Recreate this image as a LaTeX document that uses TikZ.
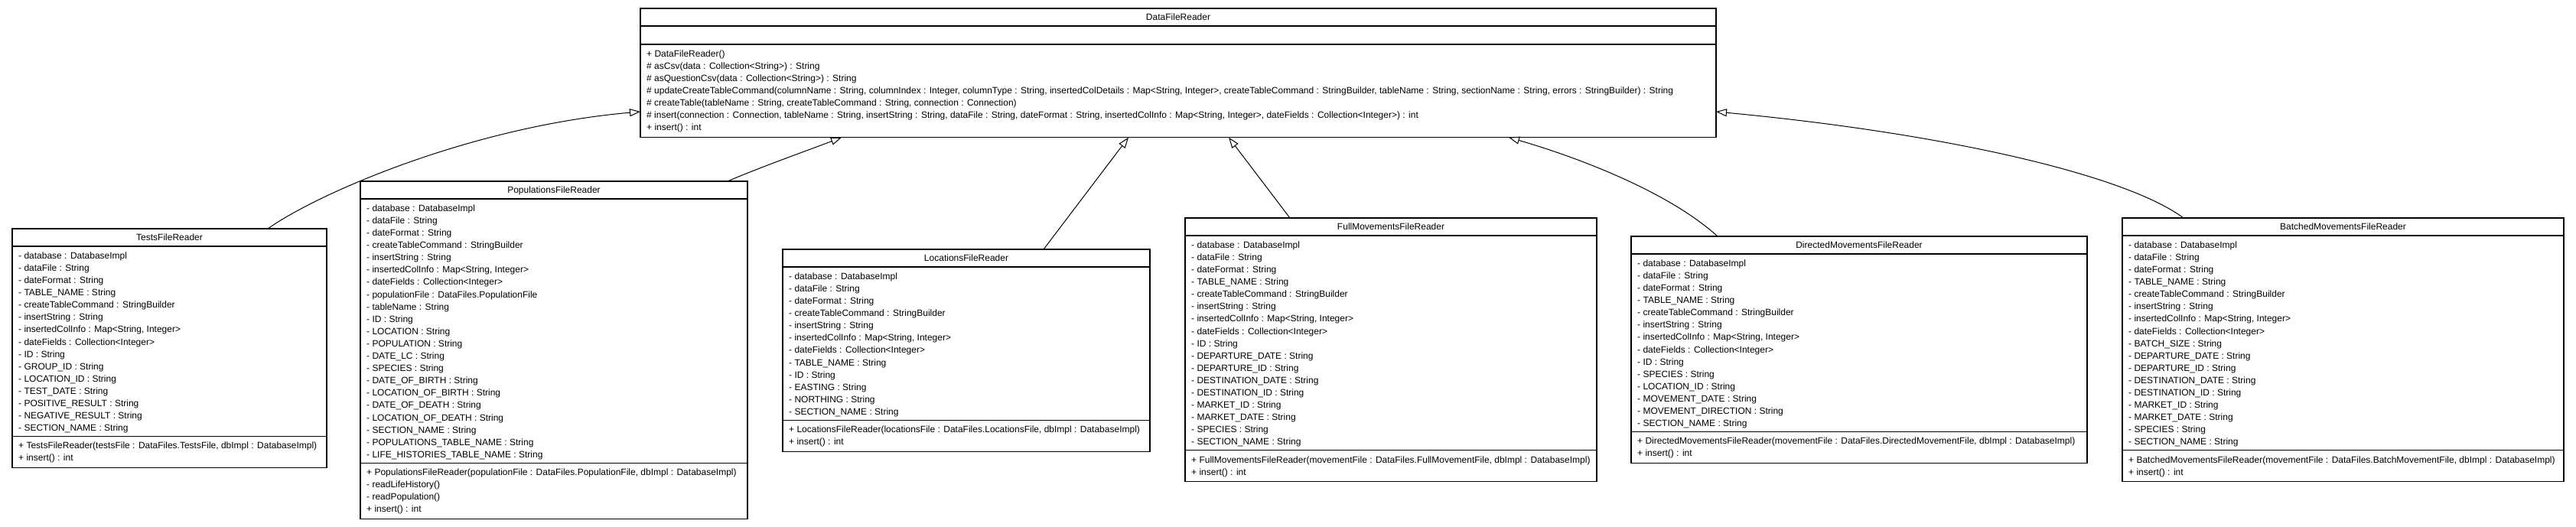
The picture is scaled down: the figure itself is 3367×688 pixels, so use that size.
\documentclass[tikz,border=0pt]{standalone}
\usepackage{fontspec}
\setmainfont{Liberation Sans}
\usetikzlibrary{arrows.meta,calc}
\tikzset{
  classbox/.style={draw, line width=1.1pt, rectangle, inner sep=0pt, outer sep=0pt, anchor=north west, fill=white},
  sepline/.style={line width=1.1pt},
  rowtext/.style={inner sep=0pt, anchor=base west, font=\fontsize{12}{14}\selectfont},
  titletext/.style={inner sep=0pt, anchor=base, font=\fontsize{12}{14}\selectfont},
  gen/.style={line width=1pt, -{Triangle[open, length=14pt, width=10pt, line width=1pt]}},
}
% #1 name, #2 L, #3 T, #4 R, #5 sep1, #6 sep2, #7 bottom, #8 title
\newcommand\umlclass[8]{%
  \pgfmathsetmacro\bw{#4-#2}%
  \pgfmathsetmacro\bh{#7-#3}%
  \node[classbox, minimum width=\bw pt, minimum height=\bh pt] (#1) at (#2,#3) {};
  \draw[sepline] (#1.west |- 0,#5) -- (#1.east |- 0,#5);
  \draw[sepline] (#1.west |- 0,#6) -- (#1.east |- 0,#6);
  \node[titletext] (#1-title) at ({(#2+#4)/2}, {#3+15.8}) {#8};
}
% #1 prefix, #2 x, #3 separator y, #4 list
\newcommand\umlrows[4]{%
  \foreach \t [count=\i] in {#4} {
    \node[rowtext] (#1-\i) at ({#2+8}, {#3+16.3+(\i-1)*16.1}) {\t};
  }
}
\begin{document}
\begin{tikzpicture}[x=1pt,y=-1pt]
\useasboundingbox[fill=white] (0,0) rectangle (3367,688);

% DataFileReader
\umlclass{dfr}{837}{11}{2243}{34}{58}{179.7}{DataFileReader}
\umlrows{dfrm}{837}{58}{
  {+ DataFileReader()},
  {\# asCsv(data : Collection<String>) : String},
  {\# asQuestionCsv(data : Collection<String>) : String},
  {\# updateCreateTableCommand(columnName : String, columnIndex : Integer, columnType : String, insertedColDetails : Map<String, Integer>, createTableCommand : StringBuilder, tableName : String, sectionName : String, errors : StringBuilder) : String},
  {\# createTable(tableName : String, createTableCommand : String, connection : Connection)},
  {\# insert(connection : Connection, tableName : String, insertString : String, dataFile : String, dateFormat : String, insertedColInfo : Map<String, Integer>, dateFields : Collection<Integer>) : int},
  {+ insert() : int}}

% TestsFileReader
\umlclass{tests}{16}{299}{427}{322}{570.5}{611.7}{TestsFileReader}
\umlrows{testsa}{16}{322}{
  {- database : DatabaseImpl},
  {- dataFile : String},
  {- dateFormat : String},
  {- TABLE\_NAME : String},
  {- createTableCommand : StringBuilder},
  {- insertString : String},
  {- insertedColInfo : Map<String, Integer>},
  {- dateFields : Collection<Integer>},
  {- ID : String},
  {- GROUP\_ID : String},
  {- LOCATION\_ID : String},
  {- TEST\_DATE : String},
  {- POSITIVE\_RESULT : String},
  {- NEGATIVE\_RESULT : String},
  {- SECTION\_NAME : String}}
\umlrows{testsm}{16}{570.5}{
  {+ TestsFileReader(testsFile : DataFiles.TestsFile, dbImpl : DatabaseImpl)},
  {+ insert() : int}}

% PopulationsFileReader
\umlclass{pop}{471}{237}{977}{260}{605.1}{678.5}{PopulationsFileReader}
\umlrows{popa}{471}{260}{
  {- database : DatabaseImpl},
  {- dataFile : String},
  {- dateFormat : String},
  {- createTableCommand : StringBuilder},
  {- insertString : String},
  {- insertedColInfo : Map<String, Integer>},
  {- dateFields : Collection<Integer>},
  {- populationFile : DataFiles.PopulationFile},
  {- tableName : String},
  {- ID : String},
  {- LOCATION : String},
  {- POPULATION : String},
  {- DATE\_LC : String},
  {- SPECIES : String},
  {- DATE\_OF\_BIRTH : String},
  {- LOCATION\_OF\_BIRTH : String},
  {- DATE\_OF\_DEATH : String},
  {- LOCATION\_OF\_DEATH : String},
  {- SECTION\_NAME : String},
  {- POPULATIONS\_TABLE\_NAME : String},
  {- LIFE\_HISTORIES\_TABLE\_NAME : String}}
\umlrows{popm}{471}{605.1}{
  {+ PopulationsFileReader(populationFile : DataFiles.PopulationFile, dbImpl : DatabaseImpl)},
  {- readLifeHistory()},
  {- readPopulation()},
  {+ insert() : int}}

% LocationsFileReader
\umlclass{loc}{1023}{326}{1503}{349}{549.2}{590.4}{LocationsFileReader}
\umlrows{loca}{1023}{349}{
  {- database : DatabaseImpl},
  {- dataFile : String},
  {- dateFormat : String},
  {- createTableCommand : StringBuilder},
  {- insertString : String},
  {- insertedColInfo : Map<String, Integer>},
  {- dateFields : Collection<Integer>},
  {- TABLE\_NAME : String},
  {- ID : String},
  {- EASTING : String},
  {- NORTHING : String},
  {- SECTION\_NAME : String}}
\umlrows{locm}{1023}{549.2}{
  {+ LocationsFileReader(locationsFile : DataFiles.LocationsFile, dbImpl : DatabaseImpl)},
  {+ insert() : int}}

% FullMovementsFileReader
\umlclass{full}{1549}{285}{2087}{308}{588.7}{629.9}{FullMovementsFileReader}
\umlrows{fulla}{1549}{308}{
  {- database : DatabaseImpl},
  {- dataFile : String},
  {- dateFormat : String},
  {- TABLE\_NAME : String},
  {- createTableCommand : StringBuilder},
  {- insertString : String},
  {- insertedColInfo : Map<String, Integer>},
  {- dateFields : Collection<Integer>},
  {- ID : String},
  {- DEPARTURE\_DATE : String},
  {- DEPARTURE\_ID : String},
  {- DESTINATION\_DATE : String},
  {- DESTINATION\_ID : String},
  {- MARKET\_ID : String},
  {- MARKET\_DATE : String},
  {- SPECIES : String},
  {- SECTION\_NAME : String}}
\umlrows{fullm}{1549}{588.7}{
  {+ FullMovementsFileReader(movementFile : DataFiles.FullMovementFile, dbImpl : DatabaseImpl)},
  {+ insert() : int}}

% DirectedMovementsFileReader
\umlclass{dir}{2132}{309}{2728}{332}{564.4}{605.6}{DirectedMovementsFileReader}
\umlrows{dira}{2132}{332}{
  {- database : DatabaseImpl},
  {- dataFile : String},
  {- dateFormat : String},
  {- TABLE\_NAME : String},
  {- createTableCommand : StringBuilder},
  {- insertString : String},
  {- insertedColInfo : Map<String, Integer>},
  {- dateFields : Collection<Integer>},
  {- ID : String},
  {- SPECIES : String},
  {- LOCATION\_ID : String},
  {- MOVEMENT\_DATE : String},
  {- MOVEMENT\_DIRECTION : String},
  {- SECTION\_NAME : String}}
\umlrows{dirm}{2132}{564.4}{
  {+ DirectedMovementsFileReader(movementFile : DataFiles.DirectedMovementFile, dbImpl : DatabaseImpl)},
  {+ insert() : int}}

% BatchedMovementsFileReader
\umlclass{bat}{2774}{285}{3351}{308}{588.7}{629.9}{BatchedMovementsFileReader}
\umlrows{bata}{2774}{308}{
  {- database : DatabaseImpl},
  {- dataFile : String},
  {- dateFormat : String},
  {- TABLE\_NAME : String},
  {- createTableCommand : StringBuilder},
  {- insertString : String},
  {- insertedColInfo : Map<String, Integer>},
  {- dateFields : Collection<Integer>},
  {- BATCH\_SIZE : String},
  {- DEPARTURE\_DATE : String},
  {- DEPARTURE\_ID : String},
  {- DESTINATION\_DATE : String},
  {- DESTINATION\_ID : String},
  {- MARKET\_ID : String},
  {- MARKET\_DATE : String},
  {- SPECIES : String},
  {- SECTION\_NAME : String}}
\umlrows{batm}{2774}{588.7}{
  {+ BatchedMovementsFileReader(movementFile : DataFiles.BatchMovementFile, dbImpl : DatabaseImpl)},
  {+ insert() : int}}

% generalisation connectors
\draw[gen] ($(tests.north west)+(334,0)$) .. controls (420,250) and (620,165) .. (dfr.west |- 0,146);
\draw[gen] ($(pop.north west)+(480,0)$) .. controls (990,220) and (1060,195) .. ($(dfr.south west)+(263,0)$);
\draw[gen] ($(loc.north west)+(341,0)$) -- ($(dfr.south west)+(638,0)$);
\draw[gen] ($(full.north west)+(137,0)$) -- ($(dfr.south west)+(769,0)$);
\draw[gen] ($(dir.north west)+(113,0)$) .. controls (2180,250) and (2060,205) .. ($(dfr.south west)+(1135,0)$);
\draw[gen] ($(bat.north west)+(80,0)$) .. controls (2780,230) and (2550,175) .. (dfr.east |- 0,146);
\end{tikzpicture}
\end{document}
